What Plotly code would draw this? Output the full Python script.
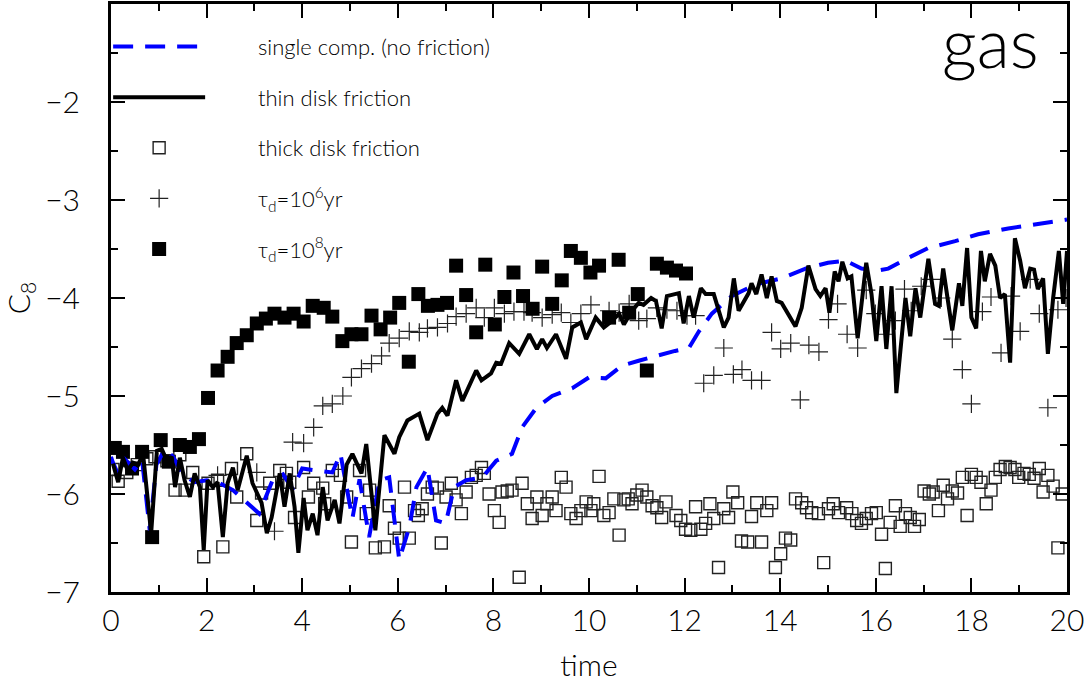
import plotly.graph_objects as go

# single component, no friction (blue dashed)
single_t = [0.00, 0.04, 0.15, 0.30, 0.50, 0.65, 0.81, 0.95, 1.13, 1.30, 1.50, 1.75, 2.00, 2.28,
            2.55, 2.96, 3.10, 3.38, 3.60, 3.80, 4.00, 4.30, 4.63, 4.80, 5.05, 5.20, 5.40, 5.62,
            5.82, 6.03, 6.24, 6.39, 6.62, 6.80, 7.00, 7.18, 7.43, 7.77, 8.06, 8.39, 8.60, 8.90,
            9.23, 9.65, 10.00, 10.35, 10.69, 11.04, 11.40, 11.80, 12.09, 12.30, 12.57, 12.99,
            13.49, 14.03, 14.53, 15.00, 15.37, 15.70, 16.05, 16.26, 16.68, 17.10, 17.66, 18.14,
            18.77, 19.33, 20.00]
single_c = [-5.62, -5.68, -5.80, -5.65, -5.75, -5.65, -6.37, -5.70, -5.54, -5.62, -5.80, -5.88,
            -5.86, -5.89, -5.96, -6.14, -6.20, -5.86, -5.80, -5.95, -5.74, -5.76, -5.78, -5.59,
            -6.25, -5.85, -6.44, -5.86, -5.83, -6.67, -6.34, -5.93, -5.73, -6.27, -6.30, -5.93,
            -5.86, -5.83, -5.66, -5.59, -5.32, -5.12, -5.00, -4.92, -4.81, -4.82, -4.69, -4.64,
            -4.59, -4.54, -4.51, -4.34, -4.16, -3.98, -3.86, -3.80, -3.70, -3.64, -3.62, -3.70,
            -3.72, -3.70, -3.59, -3.49, -3.42, -3.35, -3.29, -3.25, -3.20]

# thin disk friction (black line)
thin_t = [0.04, 0.15, 0.25, 0.35, 0.46, 0.57, 0.67, 0.84, 0.96, 1.06, 1.17, 1.27, 1.34, 1.44,
          1.54, 1.65, 1.75, 1.86, 1.94, 2.02, 2.13, 2.23, 2.34, 2.44, 2.55, 2.65, 2.84, 2.96,
          3.15, 3.26, 3.36, 3.53, 3.63, 3.74, 3.84, 3.92, 4.03, 4.11, 4.22, 4.32, 4.43, 4.53,
          4.68, 4.78, 4.93, 5.05, 5.24, 5.34, 5.53, 5.72, 5.93, 6.03, 6.20, 6.45, 6.62, 6.83,
          6.93, 7.04, 7.22, 7.35, 7.64, 7.75, 7.95, 8.06, 8.16, 8.33, 8.54, 8.75, 8.91, 9.02,
          9.12, 9.31, 9.52, 9.65, 9.83, 9.94, 10.14, 10.31, 10.47, 10.63, 10.73, 10.90, 11.04,
          11.14, 11.30, 11.40, 11.52, 11.63, 11.88, 11.98, 12.09, 12.19, 12.34, 12.44, 12.61,
          12.82, 12.92, 13.03, 13.13, 13.34, 13.40, 13.50, 13.61, 13.72, 13.82, 13.93, 14.03,
          14.32, 14.45, 14.59, 14.74, 14.84, 14.95, 15.03, 15.14, 15.22, 15.30, 15.41, 15.49,
          15.62, 15.80, 15.91, 16.01, 16.12, 16.22, 16.33, 16.43, 16.53, 16.62, 16.72, 16.83,
          16.93, 17.10, 17.24, 17.32, 17.41, 17.60, 17.74, 17.81, 17.91, 18.00, 18.10, 18.20,
          18.28, 18.39, 18.50, 18.60, 18.70, 18.81, 18.91, 19.02, 19.12, 19.23, 19.31, 19.39,
          19.50, 19.60, 19.71, 19.83, 19.92, 20.00]
thin_c = [-5.69, -5.88, -5.63, -5.76, -5.68, -5.70, -5.59, -6.40, -5.56, -5.54, -5.66, -5.62,
          -5.93, -5.63, -5.86, -6.03, -5.79, -5.93, -6.57, -5.86, -5.93, -5.88, -6.44, -5.89,
          -5.73, -5.96, -5.61, -5.89, -6.09, -6.40, -6.24, -5.79, -6.13, -5.79, -6.13, -6.60,
          -6.04, -6.37, -6.20, -6.42, -5.93, -6.27, -6.06, -6.30, -5.70, -5.59, -5.79, -5.49,
          -6.37, -5.40, -5.59, -5.42, -5.25, -5.18, -5.45, -5.18, -5.12, -5.20, -4.84, -5.05,
          -4.74, -4.84, -4.77, -4.66, -4.67, -4.46, -4.57, -4.37, -4.52, -4.42, -4.51, -4.37,
          -4.62, -4.30, -4.25, -4.42, -4.20, -4.30, -4.24, -4.16, -4.27, -4.13, -4.05, -4.07,
          -4.00, -4.03, -4.31, -3.98, -3.95, -4.26, -3.98, -4.20, -3.90, -3.96, -3.96, -4.30,
          -4.20, -3.80, -4.13, -3.95, -3.85, -3.96, -3.76, -4.00, -3.78, -4.03, -4.05, -4.29,
          -4.10, -3.67, -3.91, -3.98, -3.90, -4.15, -3.73, -3.83, -3.63, -3.80, -3.78, -4.41,
          -3.64, -3.96, -4.44, -3.88, -4.52, -3.88, -4.97, -4.47, -4.00, -4.39, -3.90, -4.20,
          -3.60, -4.06, -4.08, -3.70, -4.33, -3.85, -4.08, -3.49, -4.20, -4.31, -3.52, -3.83,
          -3.55, -3.67, -4.00, -3.96, -4.66, -3.39, -3.62, -3.90, -3.70, -3.71, -3.91, -3.80,
          -4.57, -4.00, -3.52, -4.06, -3.52]

# thick disk friction (open squares)
thick_t = [0.04, 0.15, 0.33, 0.55, 0.75, 0.92, 1.17, 1.34, 1.44, 1.55, 1.71, 1.94, 2.03, 2.23,
           2.34, 2.52, 2.63, 2.84, 3.05, 3.15, 3.32, 3.53, 3.67, 3.74, 3.84, 4.03, 4.13, 4.24,
           4.43, 4.47, 4.63, 4.80, 4.93, 5.03, 5.20, 5.34, 5.41, 5.53, 5.72, 5.82, 5.93, 6.03,
           6.14, 6.24, 6.35, 6.43, 6.51, 6.62, 6.72, 6.83, 6.91, 7.01, 7.12, 7.22, 7.33, 7.43,
           7.54, 7.64, 7.75, 7.81, 7.91, 8.02, 8.12, 8.18, 8.29, 8.39, 8.54, 8.60, 8.71, 8.81,
           8.91, 9.02, 9.12, 9.23, 9.31, 9.42, 9.52, 9.62, 9.73, 9.83, 9.94, 10.04, 10.10, 10.21,
           10.31, 10.42, 10.52, 10.63, 10.73, 10.82, 10.90, 11.00, 11.11, 11.21, 11.32, 11.42,
           11.52, 11.61, 11.82, 11.92, 12.02, 12.13, 12.23, 12.34, 12.44, 12.53, 12.61, 12.71,
           12.82, 12.92, 13.01, 13.11, 13.19, 13.32, 13.40, 13.51, 13.61, 13.72, 13.82, 13.90,
           14.01, 14.11, 14.22, 14.32, 14.45, 14.55, 14.66, 14.80, 14.91, 15.01, 15.11, 15.22,
           15.39, 15.50, 15.60, 15.70, 15.80, 15.91, 16.01, 16.12, 16.20, 16.30, 16.41, 16.51,
           16.62, 16.72, 16.81, 16.91, 17.01, 17.12, 17.20, 17.31, 17.41, 17.50, 17.60, 17.71,
           17.81, 17.91, 18.00, 18.10, 18.20, 18.31, 18.41, 18.50, 18.60, 18.71, 18.81, 18.91,
           18.99, 19.10, 19.21, 19.31, 19.42, 19.50, 19.60, 19.71, 19.81, 19.90]
thick_c = [-5.75, -5.87, -5.78, -5.70, -5.64, -5.62, -5.66, -5.96, -5.60, -5.96, -5.78, -6.64,
           -5.89, -5.86, -6.54, -5.74, -6.03, -5.59, -6.27, -5.99, -5.89, -5.76, -5.79, -5.88,
           -6.24, -5.73, -6.03, -5.89, -5.94, -6.10, -5.76, -5.81, -6.03, -6.49, -5.76, -6.20,
           -5.96, -6.55, -6.54, -6.12, -6.35, -6.45, -5.93, -6.45, -6.17, -6.22, -6.15, -6.00,
           -5.93, -5.94, -6.50, -6.03, -5.89, -6.06, -6.20, -5.98, -5.83, -5.81, -5.73, -5.79,
           -6.00, -6.17, -6.29, -5.98, -5.97, -5.96, -6.85, -5.89, -6.10, -6.25, -6.03, -6.22,
           -6.10, -6.03, -6.17, -5.83, -5.93, -6.20, -6.25, -6.17, -6.08, -6.17, -6.10, -5.82,
           -6.22, -6.19, -6.05, -6.42, -6.06, -6.05, -6.10, -6.01, -5.96, -6.03, -6.12, -6.14,
           -6.24, -6.08, -6.22, -6.27, -6.36, -6.37, -6.13, -6.36, -6.30, -6.10, -6.25, -6.75,
           -6.15, -6.24, -5.98, -6.09, -6.48, -6.49, -6.23, -6.09, -6.49, -6.17, -6.09, -6.75,
           -6.61, -6.45, -6.47, -6.05, -6.09, -6.14, -6.19, -6.20, -6.70, -6.15, -6.10, -6.19,
           -6.14, -6.20, -6.27, -6.30, -6.25, -6.20, -6.19, -6.41, -6.76, -6.29, -6.12, -6.33,
           -6.20, -6.24, -6.33, -6.26, -5.97, -6.00, -5.98, -6.17, -5.91, -6.05, -5.97, -5.99,
           -5.83, -6.22, -5.80, -5.83, -5.88, -6.10, -5.96, -5.83, -5.75, -5.72, -5.73, -5.75,
           -5.83, -5.79, -5.80, -5.84, -5.74, -5.98, -5.81, -5.92, -6.55, -6.00]

# tau_d = 1e6 yr (plus markers)
tau6_t = [2.23, 3.05, 3.42, 3.80, 4.03, 4.24, 4.43, 4.63, 4.85, 5.03, 5.24, 5.45, 5.66, 5.82,
          6.03, 6.24, 6.45, 6.62, 6.83, 7.04, 7.22, 7.43, 7.64, 7.81, 8.02, 8.23, 8.43, 8.64,
          8.81, 9.02, 9.23, 9.42, 9.62, 9.83, 10.04, 10.42, 10.63, 10.84, 11.04, 11.21, 11.42,
          11.63, 11.84, 12.05, 12.23, 12.40, 12.61, 12.82, 13.02, 13.20, 13.40, 13.61, 13.82,
          14.01, 14.22, 14.42, 14.60, 14.81, 15.01, 15.20, 15.40, 15.62, 15.80, 15.99, 16.20,
          16.41, 16.60, 16.74, 16.95, 17.16, 17.37, 17.60, 17.81, 18.00, 18.23, 18.41, 18.62,
          18.83, 19.02, 19.23, 19.42, 19.60, 19.81, 19.98]
tau6_c = [-5.81, -5.78, -6.38, -5.47, -5.48, -5.32, -5.10, -5.08, -5.00, -4.81, -4.72, -4.67,
          -4.59, -4.46, -4.41, -4.34, -4.35, -4.31, -4.30, -4.26, -4.19, -4.16, -4.10, -4.20,
          -4.10, -4.16, -4.14, -4.14, -4.15, -4.20, -4.17, -4.15, -4.25, -4.16, -4.07, -4.13,
          -4.15, -4.06, -4.23, -4.21, -4.10, -4.12, -4.13, -4.18, -4.18, -4.87, -4.79, -4.51,
          -4.78, -4.73, -4.84, -4.84, -4.35, -4.52, -4.46, -5.04, -4.48, -4.55, -4.22, -4.06,
          -4.37, -4.51, -3.92, -4.16, -4.37, -4.23, -3.91, -4.13, -3.88, -3.81, -4.00, -4.42,
          -4.73, -5.08, -4.14, -3.99, -4.56, -3.98, -4.34, -3.81, -4.16, -5.12, -4.12, -4.00]

# tau_d = 1e8 yr (filled squares)
tau8_t = [0.08, 0.25, 0.44, 0.65, 0.86, 1.04, 1.21, 1.44, 1.65, 1.84, 2.03, 2.23, 2.44, 2.63,
          2.84, 3.05, 3.24, 3.42, 3.63, 3.82, 4.03, 4.22, 4.45, 4.63, 4.84, 5.03, 5.24, 5.45,
          5.64, 5.84, 6.03, 6.23, 6.43, 6.63, 6.83, 7.03, 7.22, 7.43, 7.64, 7.83, 8.03, 8.23,
          8.42, 8.62, 8.82, 9.02, 9.23, 9.43, 9.62, 9.83, 10.03, 10.21, 10.42, 10.62, 10.84,
          11.02, 11.21, 11.42, 11.63, 11.82, 12.03]
tau8_c = [-5.53, -5.57, -5.74, -5.57, -6.44, -5.45, -5.67, -5.50, -5.52, -5.44, -5.02, -4.74,
          -4.60, -4.46, -4.38, -4.26, -4.21, -4.16, -4.20, -4.16, -4.24, -4.08, -4.10, -4.19,
          -4.44, -4.37, -4.37, -4.18, -4.32, -4.20, -4.05, -4.65, -3.96, -4.08, -4.07, -4.05,
          -3.67, -3.97, -4.35, -3.66, -4.27, -3.99, -3.74, -3.98, -4.11, -3.68, -4.06, -3.82,
          -3.52, -3.59, -3.74, -3.67, -4.20, -3.61, -4.15, -3.96, -4.74, -3.65, -3.69, -3.72,
          -3.75]

FONT = "Lato"
PAD = "\u00a0" * 8  # push legend text right, away from the long samples

fig = go.Figure()

fig.add_trace(go.Scatter(x=thick_t, y=thick_c, mode="markers", name=PAD + "thick disk friction",
                         legendgroup="c", legendrank=3,
                         marker=dict(symbol="square-open", size=12, color="#222",
                                     line=dict(width=1.4))))
fig.add_trace(go.Scatter(x=tau6_t, y=tau6_c, mode="markers",
                         name=PAD + "τ<sub>d</sub>=10<sup>6</sup>yr", legendgroup="d", legendrank=4,
                         marker=dict(symbol="cross-thin", size=13, color="#222",
                                     line=dict(width=1.2, color="#222"))))
fig.add_trace(go.Scatter(x=tau8_t, y=tau8_c, mode="markers",
                         name=PAD + "τ<sub>d</sub>=10<sup>8</sup>yr", legendgroup="e", legendrank=5,
                         marker=dict(symbol="square", size=14, color="black")))
fig.add_trace(go.Scatter(x=single_t, y=single_c, mode="lines",
                         name=PAD + "single comp. (no friction)", legendgroup="a", legendrank=1,
                         line=dict(color="#0000ff", width=4, dash="20px,12px")))
fig.add_trace(go.Scatter(x=thin_t, y=thin_c, mode="lines", name=PAD + "thin disk friction",
                         legendgroup="b", legendrank=2,
                         line=dict(color="black", width=4)))

fig.add_annotation(text="gas", xref="paper", yref="paper", x=0.972, y=1.006,
                   xanchor="right", yanchor="top", showarrow=False, borderpad=0,
                   font=dict(family=FONT, size=68, color="black", weight=300))

axis_common = dict(showline=True, linewidth=3, linecolor="black", mirror="allticks",
                   ticks="inside", tickwidth=2, ticklen=14, tickcolor="black",
                   showgrid=False, zeroline=False, automargin=False,
                   ticklabeloverflow="allow",
                   tickfont=dict(family=FONT, size=30, color="black", weight=300))

fig.update_xaxes(range=[0, 20], tickvals=[0, 2, 4, 6, 8, 10, 12, 14, 16, 18, 20],
                 minor=dict(ticks="inside", ticklen=7, tickwidth=2, tickcolor="black",
                            tick0=0, dtick=1),
                 title=dict(text="time", standoff=24,
                            font=dict(family=FONT, size=30, color="black", weight=300)),
                 **axis_common)
fig.update_yaxes(range=[-7, -1], tickvals=[-7, -6, -5, -4, -3, -2],
                 minor=dict(ticks="inside", ticklen=7, tickwidth=2, tickcolor="black",
                            tick0=-7, dtick=0.5),
                 ticklabelstandoff=22,
                 title=dict(text="C<sub>8</sub>", standoff=8,
                            font=dict(family=FONT, size=30, color="black", weight=300)),
                 **axis_common)

fig.update_layout(
    width=1085, height=682,
    margin=dict(l=111, r=18, t=4, b=90),
    plot_bgcolor="white", paper_bgcolor="white",
    legend=dict(x=-0.003, y=0.963, xanchor="left", yanchor="top",
                bgcolor="rgba(0,0,0,0)", traceorder="grouped", tracegroupgap=19,
                itemwidth=92, font=dict(family=FONT, size=22, color="black", weight=300)),
)

fig.write_html("out.html", config={"displayModeBar": False},
               post_script="document.body.style.margin = '0';")
